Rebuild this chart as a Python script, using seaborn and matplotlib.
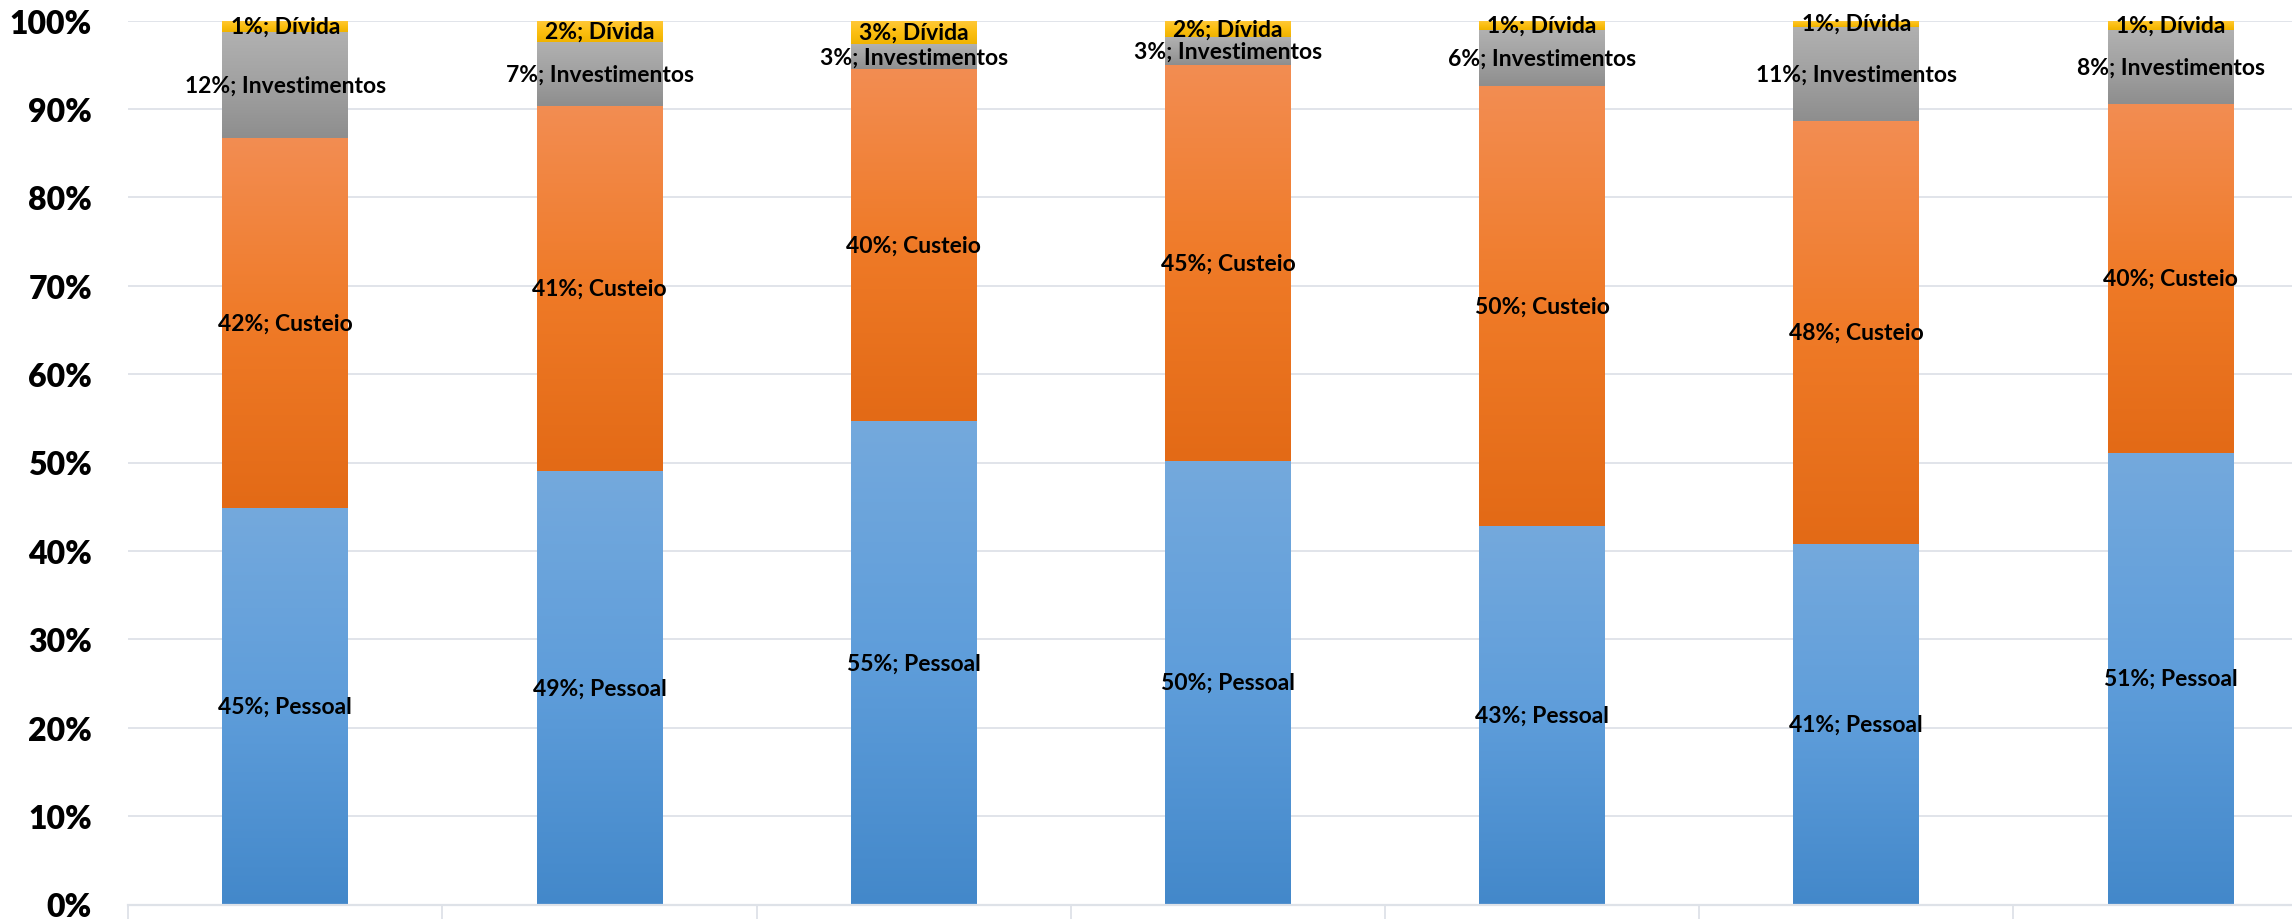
import numpy as np
import pandas as pd
import matplotlib
matplotlib.use("Agg")
import matplotlib.pyplot as plt
from matplotlib.colors import LinearSegmentedColormap
import seaborn as sns

# ---- data (shares per column) ----
categories = ["1", "2", "3", "4", "5", "6", "7"]
series_names = ["Pessoal", "Custeio", "Investimentos", "Dívida"]
pessoal = [44.8, 49.0, 54.7, 50.2, 42.8, 40.8, 51.1]
custeio = [41.9, 41.2, 39.8, 44.8, 49.8, 47.8, 39.5]
investimentos = [12.0, 7.3, 2.8, 3.1, 6.3, 10.7, 8.3]
divida = [1.3, 2.4, 2.7, 1.9, 1.1, 0.7, 1.1]
y_ticks = [0, 10, 20, 30, 40, 50, 60, 70, 80, 90, 100]

# ---- style ----
sns.set_theme(style="white")
plt.rcParams["font.family"] = ["Lato", "DejaVu Sans"]

base_colors = ["#5B9BD5", "#ED7D31", "#A5A5A5", "#FFC000"]
grad_stops = [
    ["#74A9DD", "#5E9DDA", "#4388CA"],   # Pessoal
    ["#F38D52", "#EF7A27", "#E36A16"],   # Custeio
    ["#B1B1B1", "#A1A1A1", "#8E8E8E"],   # Investimentos
    ["#FFC93C", "#FCBF12", "#F0B300"],   # Dívida
]
grid_color = "#DEE2E8"

vals = np.array([pessoal, custeio, investimentos, divida], dtype=float)
shares = vals / vals.sum(axis=0)
cum = np.cumsum(shares, axis=0)

W, H = 2292, 920
fig = plt.figure(figsize=(W / 100, H / 100), dpi=100)
cat_w = 314.2
ax = fig.add_axes([128.2 / W, 14.5 / H, 7 * cat_w / W, 884 / H])

layer_patches = {}
for i in reversed(range(4)):
    n0 = len(ax.patches)
    sns.barplot(x=categories, y=cum[i], order=categories, color=base_colors[i],
                width=0.4, saturation=1, ax=ax, zorder=2, linewidth=0)
    layer_patches[i] = ax.patches[n0:]

grad = np.linspace(0, 1, 256).reshape(-1, 1)
for i in range(4):
    cmap = LinearSegmentedColormap.from_list(f"g{i}", grad_stops[i][::-1])
    for j, p in enumerate(layer_patches[i]):
        x0 = p.get_x()
        w = p.get_width()
        top = p.get_height()
        bottom = cum[i - 1][j] if i > 0 else 0.0
        ax.imshow(grad, cmap=cmap, extent=(x0, x0 + w, bottom, top), origin="lower",
                  aspect="auto", interpolation="bilinear", zorder=2.5)
        pct = int(round(shares[i][j] * 100))
        ax.text(x0 + w / 2, (bottom + top) / 2, f"{pct}%; {series_names[i]}",
                ha="center", va="center", fontsize=16.5, fontweight="bold",
                color="black", zorder=5)

ax.set_xlim(-0.5, 6.5)
ax.set_ylim(0, 1)

# grid and axes
ax.set_axisbelow(True)
ax.yaxis.grid(True, color=grid_color, linewidth=1.3)
ax.xaxis.grid(False)
for s in ["left", "top", "right"]:
    ax.spines[s].set_visible(False)
ax.spines["bottom"].set_color(grid_color)
ax.spines["bottom"].set_linewidth(1.6)

ax.set_xticks(np.arange(-0.5, 7.0, 1.0))
ax.set_xticklabels([])
ax.tick_params(axis="x", length=12, width=1.3, color=grid_color, direction="out",
               bottom=True, labelbottom=False)
ax.set_xlabel("")

ax.set_yticks([t / 100 for t in y_ticks])
ax.set_yticklabels([f"{t}%" for t in y_ticks])
ax.tick_params(axis="y", length=0, pad=26, labelsize=23, labelcolor="black")
for lab in ax.get_yticklabels():
    lab.set_fontweight("heavy")
ax.set_ylabel("")

fig.savefig("out.png", dpi=100)
